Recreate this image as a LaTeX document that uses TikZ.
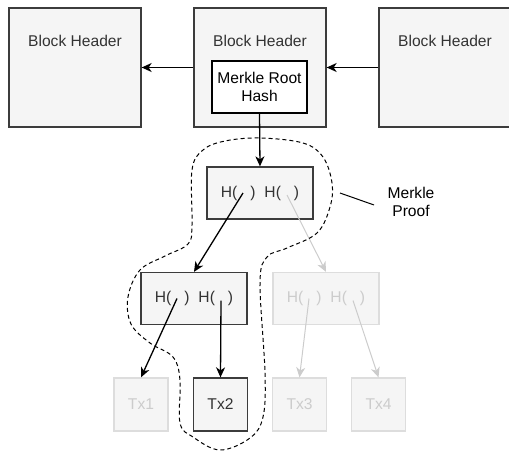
\documentclass[tikz,border=0pt]{standalone}
\usepackage{fontspec}
\setmainfont{Liberation Sans}
\usepackage{tikz}
\usetikzlibrary{arrows.meta}

\definecolor{boxfill}{HTML}{F5F5F5}
\definecolor{boxline}{HTML}{3C3C3C}
\definecolor{boxtext}{HTML}{333333}
\definecolor{fadeline}{HTML}{DDDDDD}
\definecolor{fadetext}{HTML}{CCCCCC}
\definecolor{fadearrow}{HTML}{CCCCCC}

\newcommand{\hpair}{H(\hspace{13pt})\hspace{9pt}H(\hspace{13pt})}

\begin{document}
\begin{tikzpicture}[x=1pt, y=-1pt,
	font=\fontsize{15.6}{18.5}\selectfont,
	box/.style={draw=boxline, fill=boxfill, line width=1.3pt, text=boxtext, inner sep=0pt},
	fadebox/.style={draw=fadeline, fill=boxfill, line width=1.3pt, text=fadetext, inner sep=0pt},
	hdr/.style={box, minimum width=132pt, minimum height=119pt},
	hashbox/.style={minimum width=106pt, minimum height=52pt},
	txbox/.style={minimum width=54pt, minimum height=53pt},
	arr/.style={-{Stealth[length=10pt,width=9pt,inset=3pt]}, line width=1.3pt},
	fadearr/.style={arr, draw=fadearrow, line width=1pt}]

\useasboundingbox (0,0) rectangle (509,451);

%block headers
\node[hdr] (b1) at (75,67.5) {};
\node[hdr] (b2) at (260,67.5) {};
\node[hdr] (b3) at (445,67.5) {};
\foreach \b in {b1, b2, b3}
	\node[text=boxtext] (\b-t) at ([yshift=26.5pt]\b.center) {Block Header};
\node[draw=black, fill=white, line width=1.3pt, minimum width=95pt, minimum height=52pt,
	align=center, inner sep=0pt] (mrh) at (259.5,87) {Merkle Root\\Hash};
\draw[arr] (b2.west) -- (b1.east);
\draw[arr] (b3.west) -- (b2.east);

%merkle tree
\node[box, hashbox] (root) at (260,193) {\hpair};
\node[box, hashbox] (l2a) at (194,298.5) {\hpair};
\node[fadebox, hashbox] (l2b) at (326,298.5) {\hpair};
\node[fadebox, txbox] (tx1) at (141,404.5) {Tx1};
\node[box, txbox] (tx2) at (220.5,404.5) {Tx2};
\node[fadebox, txbox] (tx3) at (299.5,404.5) {Tx3};
\node[fadebox, txbox] (tx4) at (378.5,404.5) {Tx4};
\foreach \n in {root, l2a, l2b}
{
	\coordinate (\n-a) at ([xshift=-17pt]\n.center);
	\coordinate (\n-b) at ([xshift=27pt,yshift=-2pt]\n.center);
}

\draw[arr] (mrh.south) -- (root.north);
\draw[arr] (root-a) -- (l2a.north);
\draw[fadearr] (root-b) -- (l2b.north);
\draw[arr] (l2a-a) -- (tx1.north);
\draw[arr] (l2a-b) -- (tx2.north);
\draw[fadearr] (l2b-a) -- (tx3.north);
\draw[fadearr] (l2b-b) -- (tx4.north);

%proof outline
\draw[dash pattern=on 4pt off 3pt, line width=1pt] plot[smooth cycle, tension=0.6] coordinates {
	(260,138) (303,143) (323,157) (332,183) (330,207) (317,233) (287,248) (267,257)
	(260,283) (265,373) (263,417) (250,438) (220,450) (193,437) (180,423) (180,380)
	(173,357) (150,343) (131,324) (128,297) (140,270) (165,256) (188,244) (192,225)
	(192,170) (203,150) (225,141)};
\node[align=center, text=black] (mp) at (411,202) {Merkle\\Proof};
\coordinate (mp-c) at (340,193);
\draw[line width=1pt] (mp-c) -- ([xshift=-10pt,yshift=-3pt]mp.west);

\end{tikzpicture}
\end{document}
